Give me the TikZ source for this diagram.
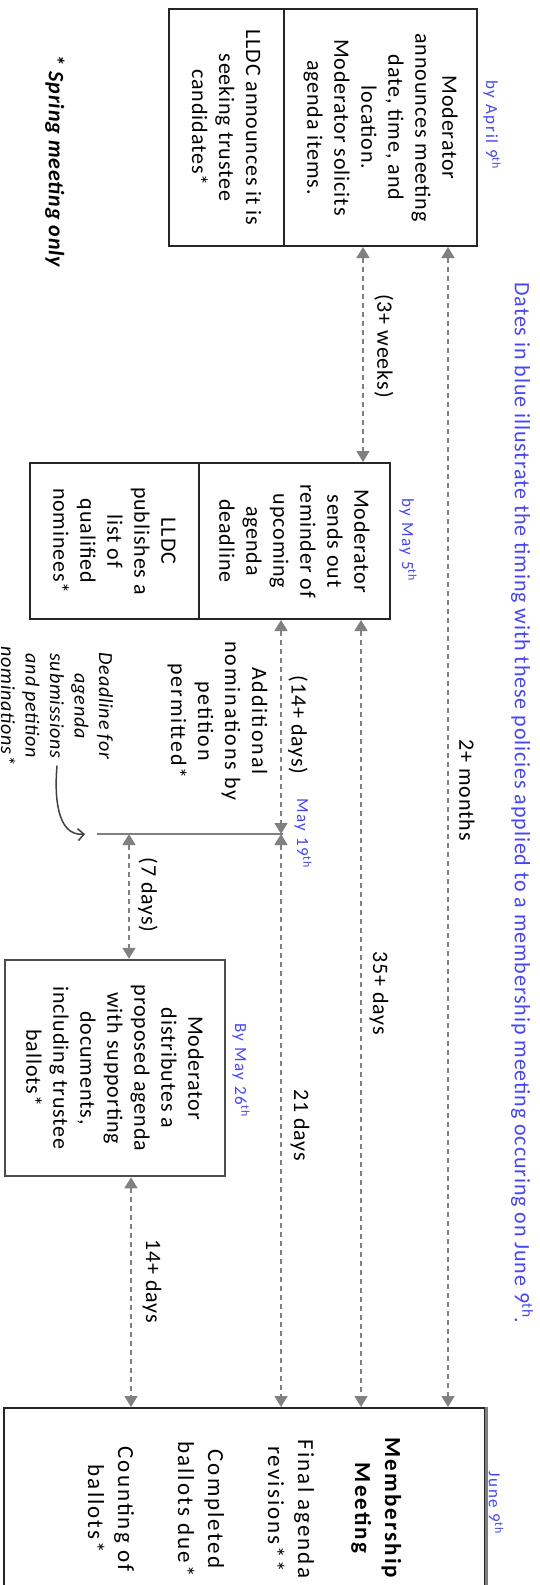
\documentclass[tikz,border=0pt]{standalone}
\usepackage{fontspec}
\setmainfont{Carlito}[LetterSpace=4]
\newfontfamily\widefont{Carlito}[LetterSpace=9]
\newfontfamily\midfont{Carlito}[LetterSpace=9]
\newfontfamily\datefont{Carlito}[LetterSpace=10]
\usepackage{xcolor}
\usepackage{tikz}
\usetikzlibrary{arrows.meta}
\definecolor{dateblue}{RGB}{70,70,245}
\definecolor{gapgray}{RGB}{128,128,128}

\begin{document}
\begin{tikzpicture}[x=1pt,y=-1pt,
  box/.style={draw=black!85,line width=2pt,rotate=-90,align=center,inner sep=0pt,font=\fontsize{22}{27}\selectfont},
  txt/.style={rotate=-90,align=center,inner sep=0pt,font=\fontsize{22}{27}\selectfont},
  datelbl/.style={rotate=-90,inner sep=0pt,text=dateblue,font=\datefont\fontsize{17}{21}\selectfont},
  gaparrow/.style={gapgray,line width=1.5pt,dash pattern=on 5pt off 4pt,{Triangle[width=13pt,length=11pt]}-{Triangle[width=13pt,length=11pt]}}]
\useasboundingbox (0,0) rectangle (540,1585);
\clip (0,0) rectangle (540,1585);
\node[box,minimum width=237pt,minimum height=193pt] (ann) at (380.5,127.5) {Moderator\\announces meeting\\date, time, and\\location.\\Moderator solicits\\agenda items.};
\node[box,minimum width=237pt,minimum height=115pt] (cand) at (226.5,127.5) {LLDC announces it is\\seeking trustee\\candidates*};
\node[box,minimum width=156pt,minimum height=191pt] (remind) at (294.5,541) {Moderator\\sends out\\reminder of\\upcoming\\agenda\\deadline};
\node[box,minimum width=156pt,minimum height=169pt] (nominees) at (114.5,541) {LLDC\\publishes a\\list of\\qualified\\nominees*};
\node[box,draw=black!70,line width=2.5pt,minimum width=216pt,minimum height=220pt] (distrib) at (115,1068) {Moderator\\distributes a\\proposed agenda\\with supporting\\documents,\\including trustee\\ballots*};
\node[box,font=\widefont\fontsize{23}{30}\selectfont,minimum width=202pt,minimum height=481pt] (meet) at (244.5,1509) {\textbf{Membership}\\\textbf{Meeting}\\[27pt]Final agenda\\revisions**\\[30pt]Completed\\ballots due*\\[30pt]Counting of\\ballots*};
\draw[gapgray,line width=3pt] (meet.north west) -- (meet.north east);
\node[datelbl] (apr9) at (492,125) {by April 9\textsuperscript{th}};
\node[datelbl] (may5) at (408,540) {by May 5\textsuperscript{th}};
\node[datelbl] (may19) at (303,833) {May 19\textsuperscript{th}};
\node[datelbl] (may26) at (241,1070) {By May 26\textsuperscript{th}};
\node[datelbl] (jun9) at (496,1503) {June 9\textsuperscript{th}};
\node[txt,text=dateblue] (title) at (522,803) {Dates in blue illustrate the timing with these policies applied to a membership meeting occuring on June 9\textsuperscript{th}.};
\node[txt,font=\fontsize{22}{27}\selectfont\bfseries\itshape] (spring) at (55,161) {* Spring meeting only};
\node[txt] (l2m) at (467,790) {2+ months};
\node[txt] (l3w) at (384,346) {(3+ weeks)};
\node[txt] (l35) at (379,993) {35+ days};
\node[txt] (l14a) at (298,725) {(14+ days)};
\node[txt,font=\midfont\fontsize{22}{27}\selectfont] (petition) at (217.5,721) {Additional\\nominations by\\petition\\permitted*};
\node[txt,font=\fontsize{20}{24.5}\selectfont\itshape] (deadline) at (57,706) {Deadline for\\agenda\\submissions\\and petition\\nominations*};
\node[txt] (l7) at (148,895) {(7 days)};
\node[txt] (l21) at (300,1125) {21 days};
\node[txt] (l14b) at (152,1281) {14+ days};
\coordinate (cutl) at (97,834);
\coordinate (cutr) at (283,834);
\draw[gapgray,line width=2pt] (cutl) -- (cutr);
\draw[gaparrow] (ann.east -| 448,0) -- (meet.west -| 448,0);
\draw[gaparrow] (ann.east -| 363,0) -- (remind.west -| 363,0);
\draw[gaparrow] (remind.east -| 361,0) -- (meet.west -| 361,0);
\draw[gaparrow] (remind.east -| 281,0) -- (cutr -| 281,0);
\draw[gaparrow] (cutr -| 281,0) -- (meet.west -| 281,0);
\draw[gaparrow] (cutl -| 129,0) -- (distrib.west -| 129,0);
\draw[gaparrow] (distrib.east -| 131,0) -- (meet.west -| 131,0);
\draw[black!75,line width=1.5pt,-{Straight Barb[length=6pt,width=12pt]}] (deadline.east) to[out=265,in=185] ([xshift=-12pt]cutl);
\end{tikzpicture}
\end{document}
